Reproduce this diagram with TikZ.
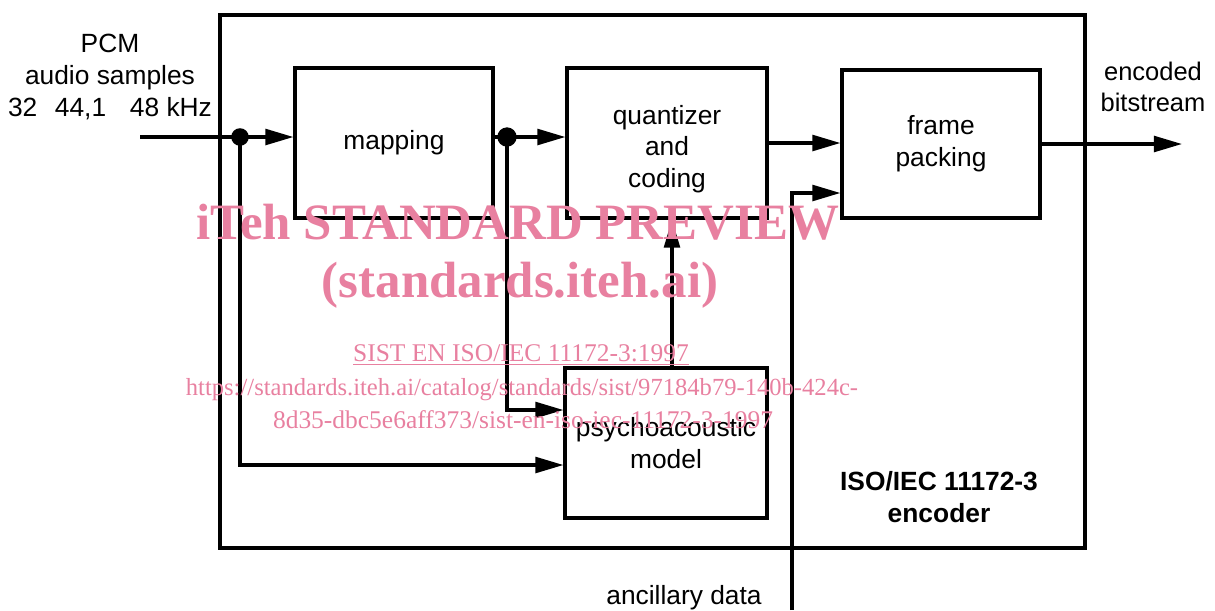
\documentclass[tikz,border=0pt]{standalone}
\usepackage{fontspec}
\setmainfont{Liberation Sans}
\newfontfamily\wmfont{Liberation Serif}
\usetikzlibrary{positioning, arrows.meta, calc}
\definecolor{wmpink}{RGB}{232,128,160}
\tikzset{
  blk/.style={draw, line width=1.8pt, align=center, font=\fontsize{15}{18}\selectfont},
  wire/.style={line width=1.8pt},
  sig/.style={wire, -{Triangle[length=16pt,width=9pt]}},
  lbl/.style={align=center, font=\fontsize{15}{18}\selectfont},
  wm/.style={text=wmpink, align=center},
}

\begin{document}
\begin{tikzpicture}[x=0.02cm, y=-0.02cm]
            \useasboundingbox (0,0) rectangle (1215,610);
            \draw[wire] (220,15) rectangle (1085,548);
            \node[blk, minimum width=3.96cm, minimum height=3cm] (map) at (394,143) {mapping};
            \node[blk, minimum width=4cm, minimum height=3cm] (quant) at (667,143) {\rule{0pt}{17.5pt}quantizer\\and\\coding};
            \node[blk, minimum width=3.96cm, minimum height=2.96cm] (frame) at (941,144) {frame\\packing};
            \node[blk, minimum width=4.04cm, minimum height=3cm] (psy) at (666,443) {psychoacoustic\\model};
            \coordinate (in) at (140,137);
            \coordinate (s1) at (240,137);
            \coordinate (s2) at (507,137);
            \coordinate (anc) at (792,610);
            \coordinate (out) at (1182,142);
            \draw[sig] (in) -- (in -| map.west);
            \draw[sig] (map.east |- s2) -- (s2 -| quant.west);
            \draw[sig] (s1) |- ($(psy.west)+(0,22)$);
            \draw[sig] (s2) |- ($(psy.west)+(0,-33)$);
            \draw[sig] ($(psy.north)+(6,0)$) -- ($(quant.south)+(5,0)$);
            \draw[sig] (quant.east) -- (quant.east -| frame.west);
            \draw[sig] (anc) |- ($(frame.west)+(0,49)$);
            \draw[sig] (frame.east) -- (frame.east -| out);
            \fill (s1) circle (5pt);
            \fill (s2) circle (5.5pt);
            \node[lbl] (pcm) at (110,77) {PCM\\audio samples\\32\hspace{10pt}44,1\hspace{13.5pt}48 kHz};
            \node[lbl, font=\fontsize{14.5}{17.5}\selectfont] (bits) at (1153,87) {encoded\\bitstream};
            \node[lbl] (ancl) at (684,598) {ancillary data};
            \node[lbl, font=\bfseries\fontsize{15}{18}\selectfont] (enc) at (939,497) {ISO/IEC 11172-3\\encoder};
            \node[wm, font=\wmfont\bfseries\fontsize{29}{34}\selectfont] (wm1) at (518,222) {iTeh STANDARD PREVIEW};
            \node[wm, font=\wmfont\bfseries\fontsize{29}{34}\selectfont] (wm2) at (520,285) {(standards.iteh.ai)};
            \node[wm, font=\wmfont\fontsize{14.5}{17}\selectfont] (wm3) at (521,355) {\underline{SIST EN ISO/IEC 11172-3:1997}};
            \node[wm, font=\wmfont\fontsize{14}{17}\selectfont] (wm4) at (522,390) {https://standards.iteh.ai/catalog/standards/sist/97184b79-140b-424c-};
            \node[wm, font=\wmfont\fontsize{14.5}{17}\selectfont] (wm5) at (523,420) {8d35-dbc5e6aff373/sist-en-iso-iec-11172-3-1997};
        \end{tikzpicture}
\end{document}
